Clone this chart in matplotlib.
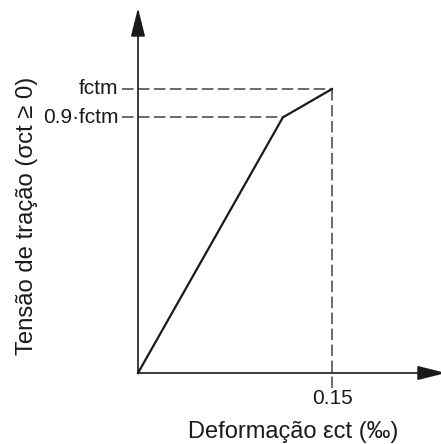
import matplotlib
matplotlib.use("Agg")
import matplotlib.pyplot as plt

plt.rcParams['font.family'] = ['Liberation Sans', 'DejaVu Sans']
plt.rcParams['lines.scale_dashes'] = False

# Bilinear tension model for concrete (stress normalised by fctm)
strain = [0.0, 0.112, 0.15]      # ‰
stress = [0.0, 0.9, 1.0]         # fraction of fctm
y_levels = [1.0, 0.9]
y_labels = ["fctm", "0.9·fctm"]
x_ticks = [0.15]
x_tick_labels = ["0.15"]
x_title = "Deformação εct (‰)"
y_title = "Tensão de tração (σct ≥ 0)"

ink = '#1a1a1a'
dash_col = '#6a6a6a'
W, H = 441, 444

fig = plt.figure(figsize=(W / 100, H / 100), dpi=100)
# origin at (138, 373) px, arrows end at 446 px (right) and 8 px (top)
ax = fig.add_axes([138 / W, (H - 373) / H, 308 / W, 365 / H])
px_x = 0.15 / 194      # strain per pixel
px_y = 1.0 / 284       # stress per pixel
xmax, ymax = 308 * px_x, 365 * px_y
ax.set_xlim(0, xmax)
ax.set_ylim(0, ymax)
ax.axis('off')

# axes drawn as arrows
arrow = dict(arrowstyle='-|>,head_length=1.6,head_width=0.4', mutation_scale=11,
             lw=1.2, color=ink, shrinkA=0, shrinkB=0)
ax.annotate('', xy=(xmax, 0), xytext=(0, 0), arrowprops=arrow, annotation_clip=False)
ax.annotate('', xy=(0, ymax), xytext=(0, 0), arrowprops=arrow, annotation_clip=False)

# dashed guides to fctm and 0.9 fctm, and down past the 0.15 tick
dash = (0, (8.3, 3.2))
for lev, peak_x in zip(y_levels, strain[:0:-1]):
    ax.plot([-16 * px_x, peak_x], [lev, lev], color=dash_col, lw=1.4,
            ls=dash, clip_on=False)
ax.plot([x_ticks[0], x_ticks[0]], [stress[-1], -16 * px_y], color=dash_col, lw=1.4,
        ls=dash, clip_on=False)

# stress-strain curve
ax.plot(strain, stress, color=ink, lw=1.6, solid_joinstyle='miter', clip_on=False)

fs = 15
for lev, lab in zip(y_levels, y_labels):
    ax.annotate(lab, xy=(0, lev), xytext=(-14, 0), textcoords='offset points',
                ha='right', va='center', fontsize=fs, color=ink, annotation_clip=False)
for xt, lab in zip(x_ticks, x_tick_labels):
    ax.annotate(lab, xy=(xt, 0), xytext=(0.5, -18), textcoords='offset points',
                ha='center', va='center', fontsize=fs, color=ink, annotation_clip=False)

fig.text(188 / W, (H - 438) / H, x_title, fontsize=17, color=ink,
         ha='left', va='baseline')
fig.text(33 / W, 1 - 215.5 / H, y_title, fontsize=17.2, color=ink,
         rotation=90, rotation_mode='anchor', ha='center', va='baseline')

fig.savefig("out.png", dpi=100, facecolor='white')
